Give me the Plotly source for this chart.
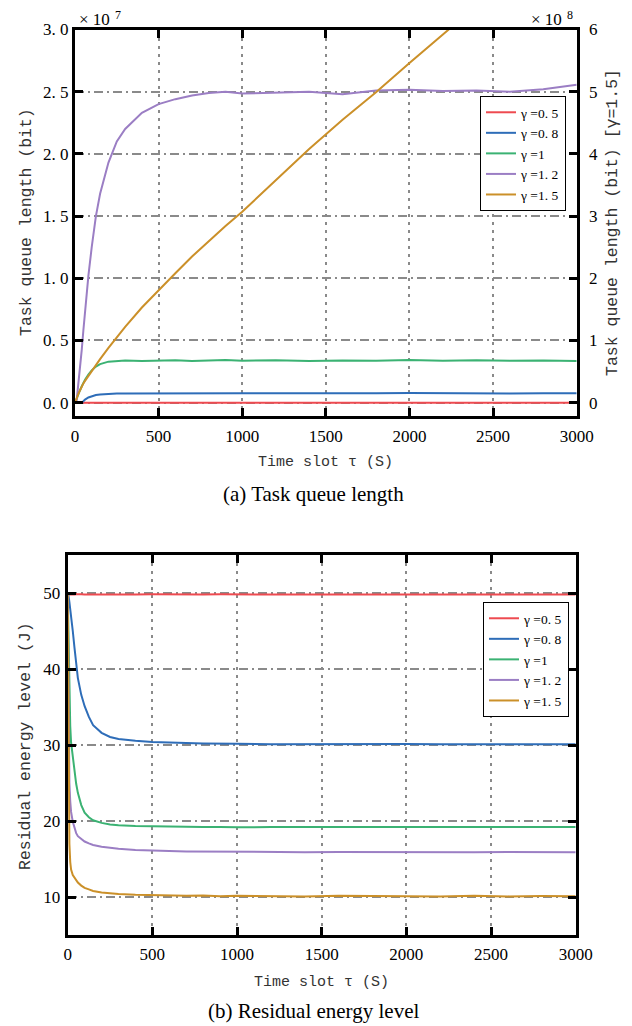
import plotly.graph_objects as go

# time slots (shared by both panels)
slots = [0, 5, 10, 15, 20, 30, 40, 50, 60, 80, 100, 125, 150, 200, 250, 300, 400, 500,
         600, 700, 800, 900, 1000, 1200, 1400, 1600, 1800, 2000, 2200, 2400, 2600, 2800, 3000]

names = ["γ =0. 5", "γ =0. 8", "γ =1", "γ =1. 2", "γ =1. 5"]
colors = ["#EE4A50", "#2E6DB8", "#3BB273", "#9B7EC4", "#CB9029"]

# (a) task queue length, x1e7 bit (gamma=1.5 on right axis, x1e8 bit)
q_05 = [0, 0, 0, 0, 0, 0, 0, 0, 0, 0, 0, 0, 0, 0, 0, 0, 0, 0,
        0, 0, 0, 0, 0, 0, 0, 0, 0, 0, 0, 0, 0, 0, 0]
q_08 = [0, 0, 0, 0, 0, 0, 0.002, 0.012, 0.025, 0.042, 0.053, 0.061, 0.066, 0.071, 0.073, 0.074, 0.075, 0.076,
        0.074, 0.076, 0.075, 0.077, 0.075, 0.076, 0.074, 0.076, 0.075, 0.077, 0.075, 0.076, 0.074, 0.076, 0.075]
q_1 = [0, 0.01, 0.03, 0.05, 0.07, 0.10, 0.13, 0.16, 0.185, 0.225, 0.26, 0.29, 0.31, 0.33, 0.337, 0.34, 0.335, 0.338,
       0.342, 0.336, 0.34, 0.343, 0.338, 0.341, 0.336, 0.34, 0.337, 0.344, 0.338, 0.341, 0.337, 0.339, 0.335]
q_12 = [0, 0, 0.02, 0.08, 0.15, 0.28, 0.42, 0.58, 0.73, 1.02, 1.25, 1.5, 1.68, 1.93, 2.1, 2.2, 2.33, 2.4,
        2.44, 2.47, 2.49, 2.5, 2.485, 2.49, 2.5, 2.48, 2.51, 2.515, 2.505, 2.51, 2.5, 2.52, 2.555]
q_15 = [0, 0.04, 0.08, 0.11, 0.14, 0.2, 0.26, 0.31, 0.35, 0.43, 0.5, 0.6, 0.7, 0.88, 1.06, 1.22, 1.53, 1.81,
        2.08, 2.35, 2.6, 2.84, 3.07, 3.58, 4.08, 4.55, 4.99, 5.46, 5.92, 6.38, 6.84, 7.3, 7.76]

# (b) residual energy level, J
e_05 = [50, 49.85, 49.8, 49.82, 49.8, 49.83, 49.8, 49.82, 49.79, 49.82, 49.8, 49.83, 49.8, 49.81, 49.79, 49.82, 49.8, 49.83,
        49.8, 49.81, 49.79, 49.82, 49.8, 49.83, 49.8, 49.81, 49.8, 49.82, 49.79, 49.81, 49.8, 49.82, 49.8]
e_08 = [50, 49.6, 48.8, 48.0, 47.0, 45.0, 42.8, 40.6, 38.8, 36.6, 35.1, 33.7, 32.6, 31.6, 31.05, 30.8, 30.55, 30.4,
        30.3, 30.25, 30.2, 30.15, 30.15, 30.1, 30.12, 30.08, 30.1, 30.12, 30.09, 30.1, 30.11, 30.08, 30.1]
e_1 = [50, 44, 37, 32.5, 30.3, 28.2, 26.4, 24.9, 23.7, 22.1, 21.1, 20.5, 20.1, 19.75, 19.55, 19.45, 19.35, 19.3,
       19.25, 19.22, 19.2, 19.22, 19.18, 19.2, 19.21, 19.17, 19.2, 19.22, 19.19, 19.2, 19.18, 19.21, 19.2]
e_12 = [50, 30, 25, 22.6, 21.2, 19.9, 19.0, 18.4, 18.0, 17.6, 17.3, 17.05, 16.85, 16.6, 16.45, 16.35, 16.2, 16.1,
        16.05, 16.0, 15.98, 15.95, 15.95, 15.92, 15.9, 15.93, 15.9, 15.91, 15.88, 15.9, 15.92, 15.89, 15.9]
e_15 = [50, 25, 17, 14.6, 13.6, 12.9, 12.5, 12.2, 11.9, 11.5, 11.2, 11.0, 10.8, 10.6, 10.5, 10.4, 10.3, 10.25,
        10.2, 10.15, 10.2, 10.1, 10.15, 10.1, 10.05, 10.15, 10.1, 10.12, 10.05, 10.15, 10.08, 10.12, 10.1]

x_ticks = [0, 500, 1000, 1500, 2000, 2500, 3000]
q_ticks = [0, 0.5, 1.0, 1.5, 2.0, 2.5, 3.0]
q_labels = ["0. 0", "0. 5", "1. 0", "1. 5", "2. 0", "2. 5", "3. 0"]
q15_ticks = [0, 1, 2, 3, 4, 5, 6]
e_ticks = [10, 20, 30, 40, 50]

SERIF = "Liberation Serif"
MONO = "Liberation Mono"
# the page body keeps its default 8px margin, so the figure is drawn 8px in
OFF = 8
W, H = 632 - OFF, 1026 - OFF


def px(x):
    return (x - OFF) / W


def py(y):
    return 1 - (y - OFF) / H


fig = go.Figure()

queue = [q_05, q_08, q_1, q_12]
for i, ys in enumerate(queue):
    fig.add_trace(go.Scatter(x=slots, y=ys, name=names[i], mode="lines",
                             line=dict(color=colors[i], width=2),
                             xaxis="x", yaxis="y", legend="legend"))
fig.add_trace(go.Scatter(x=slots, y=q_15, name=names[4], mode="lines",
                         line=dict(color=colors[4], width=2),
                         xaxis="x", yaxis="y2", legend="legend"))

energy = [e_05, e_08, e_1, e_12, e_15]
for i, ys in enumerate(energy):
    fig.add_trace(go.Scatter(x=slots, y=ys, name=names[i], mode="lines",
                             line=dict(color=colors[i], width=2),
                             xaxis="x2", yaxis="y3", legend="legend2"))

tickfont = dict(family=SERIF, size=17, color="black")
frame = dict(showline=True, linewidth=3, linecolor="black",
             ticks="inside", ticklen=8, tickwidth=3, tickcolor="black",
             zeroline=False, tickfont=tickfont, automargin=False)
xgrid = dict(showgrid=True, gridcolor="#8a8a8a", gridwidth=1.5, griddash="3px,5px")
ygrid = dict(showgrid=True, gridcolor="#8a8a8a", gridwidth=1.5, griddash="9px,4px,2px,4px")
legend_style = dict(xanchor="right", yanchor="top", bgcolor="white",
                    bordercolor="black", borderwidth=1, tracegroupgap=0,
                    font=dict(family=SERIF, size=13.5, color="black"))

fig.update_layout(
    width=W, height=H,
    paper_bgcolor="white", plot_bgcolor="white",
    margin=dict(l=0, r=0, t=0, b=0, autoexpand=False),
    showlegend=True,
    xaxis=dict(domain=[px(75), px(576.7)], anchor="y", range=[0, 3000],
               tickvals=x_ticks, mirror="ticks", ticklabelstandoff=3,
               **frame, **xgrid),
    yaxis=dict(domain=[py(416), py(29.5)], anchor="x", range=[-0.107, 3.0],
               tickvals=q_ticks, ticktext=q_labels, ticklabelstandoff=0,
               **frame, **ygrid),
    yaxis2=dict(overlaying="y", side="right", anchor="x", range=[-0.2143, 6],
                tickvals=q15_ticks, showgrid=False, ticklabelstandoff=6,
                **frame),
    xaxis2=dict(domain=[px(67.7), px(575.7)], anchor="y3", range=[0, 3000],
                tickvals=x_ticks, mirror="ticks", ticklabelstandoff=2,
                **frame, **xgrid),
    yaxis3=dict(domain=[py(935), py(555)], anchor="x2", range=[5, 55],
                tickvals=e_ticks, mirror="ticks", ticklabelstandoff=1,
                **frame, **ygrid),
    legend=dict(x=px(566), y=py(96), **legend_style),
    legend2=dict(x=px(569), y=py(602), **legend_style),
)


def note(text, x, y, size=17, family=SERIF, angle=0, xanchor="center", color="black"):
    fig.add_annotation(text=text, x=px(x), y=py(y), xref="paper", yref="paper",
                       xanchor=xanchor, yanchor="middle", showarrow=False, textangle=angle,
                       font=dict(family=family, size=size, color=color))


# axis titles
note("Time slot τ (S)", 325, 462, size=15, family=MONO, color="#333333")
note("Task queue length (bit)", 26, 222, size=16.5, family=MONO, angle=-90, color="#333333")
note("Task queue length (bit) [γ=1.5]", 613, 223, size=16.5, family=MONO, angle=-90, color="#333333")
note("Time slot τ (S)", 321, 982, size=15, family=MONO, color="#333333")
note("Residual energy level (J)", 25, 746, size=16.5, family=MONO, angle=-90, color="#333333")

# exponent labels (base and power set separately so they stay inside the page)
note("× 10", 77, 20, xanchor="left")
note("7", 113, 15, size=12, xanchor="left")
note("× 10", 564, 20, xanchor="right")
note("8", 565, 15, size=12, xanchor="left")

# captions
note("(a) Task queue length", 313, 494, size=21)
note("(b) Residual energy level", 313, 1011, size=21)

fig.write_html("out.html")
